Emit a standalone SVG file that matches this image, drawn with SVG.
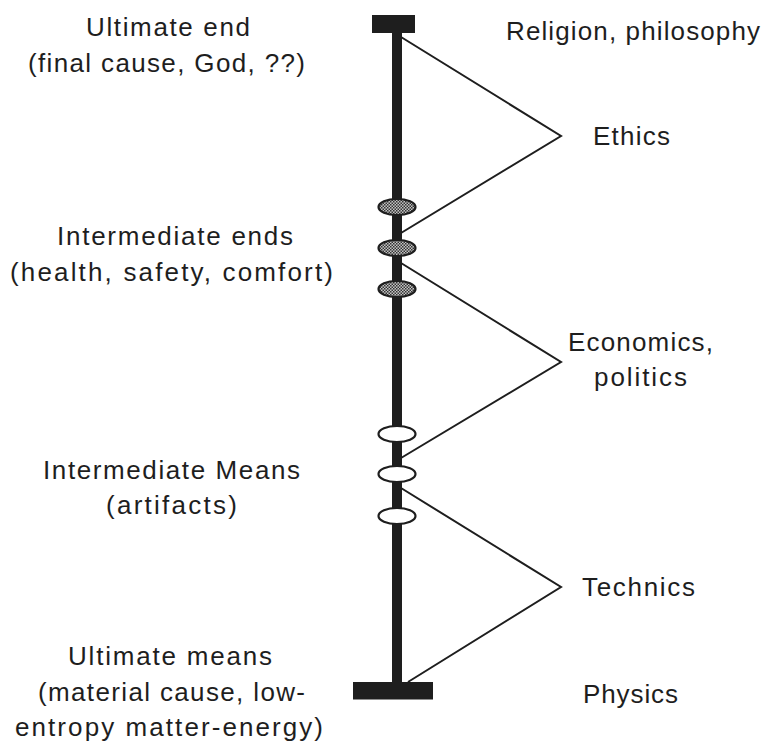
<svg xmlns="http://www.w3.org/2000/svg" width="765" height="744" viewBox="0 0 765 744">
<style>
text{font-family:"Liberation Sans",Arial,sans-serif;font-size:26px;fill:#1e1e1e;text-anchor:middle}
.bar{fill:#1e1e1e}
.con{fill:none;stroke:#1e1e1e;stroke-width:2;stroke-linejoin:miter}
.eg{fill:url(#stip);stroke:#1e1e1e;stroke-width:2.2}
.ew{fill:#fff;stroke:#1e1e1e;stroke-width:2.2}
</style>
<defs>
<pattern id="stip" width="3" height="3" patternUnits="userSpaceOnUse">
<rect width="3" height="3" fill="#c4c4c4"/>
<rect width="1.5" height="1.5" fill="#333"/>
<rect x="1.5" y="1.5" width="1.5" height="1.5" fill="#333"/>
</pattern>
</defs>
<rect width="765" height="744" fill="#fff"/>
<g id="axis">
<rect class="bar" x="392" y="30" width="10" height="655"/>
<rect class="bar" x="372" y="15" width="43" height="18"/>
<rect class="bar" x="353" y="682" width="80" height="17.5"/>
</g>
<g id="connectors">
<polyline class="con" points="401,37 561,136 401,233"/>
<polyline class="con" points="401,263 561,362 401,458"/>
<polyline class="con" points="401,488 561,587 408,682"/>
</g>
<g id="ends-markers">
<ellipse class="eg" cx="397" cy="207" rx="18.5" ry="8"/>
<ellipse class="eg" cx="397" cy="248" rx="18.5" ry="8"/>
<ellipse class="eg" cx="397" cy="289" rx="18.5" ry="8"/>
</g>
<g id="means-markers">
<ellipse class="ew" cx="397" cy="434" rx="18.5" ry="8"/>
<ellipse class="ew" cx="397" cy="474" rx="18.5" ry="8"/>
<ellipse class="ew" cx="397" cy="516" rx="18.5" ry="8"/>
</g>
<g id="ultimate-end">
<text x="168" y="36" textLength="164" lengthAdjust="spacing">Ultimate end</text>
<text x="166.5" y="72" textLength="277" lengthAdjust="spacing">(final cause, God, ??)</text>
</g>
<g id="intermediate-ends">
<text x="175" y="245" textLength="236" lengthAdjust="spacing">Intermediate ends</text>
<text x="171.5" y="281" textLength="323" lengthAdjust="spacing">(health, safety, comfort)</text>
</g>
<g id="intermediate-means">
<text x="171.5" y="479" textLength="257" lengthAdjust="spacing">Intermediate Means</text>
<text x="171.5" y="514" textLength="131" lengthAdjust="spacing">(artifacts)</text>
</g>
<g id="ultimate-means">
<text x="170" y="665" textLength="204" lengthAdjust="spacing">Ultimate means</text>
<text x="171.5" y="701" textLength="267" lengthAdjust="spacing">(material cause, low-</text>
<text x="169" y="736" textLength="308" lengthAdjust="spacing">entropy matter-energy)</text>
</g>
<g id="religion"><text x="633" y="40" textLength="254" lengthAdjust="spacing">Religion, philosophy</text></g>
<g id="ethics"><text x="631.5" y="145" textLength="77" lengthAdjust="spacing">Ethics</text></g>
<g id="economics">
<text x="640.5" y="351" textLength="145" lengthAdjust="spacing">Economics,</text>
<text x="640.5" y="386" textLength="93" lengthAdjust="spacing">politics</text>
</g>
<g id="technics"><text x="638.5" y="596" textLength="113" lengthAdjust="spacing">Technics</text></g>
<g id="physics"><text x="630.5" y="703" textLength="95" lengthAdjust="spacing">Physics</text></g>
</svg>
